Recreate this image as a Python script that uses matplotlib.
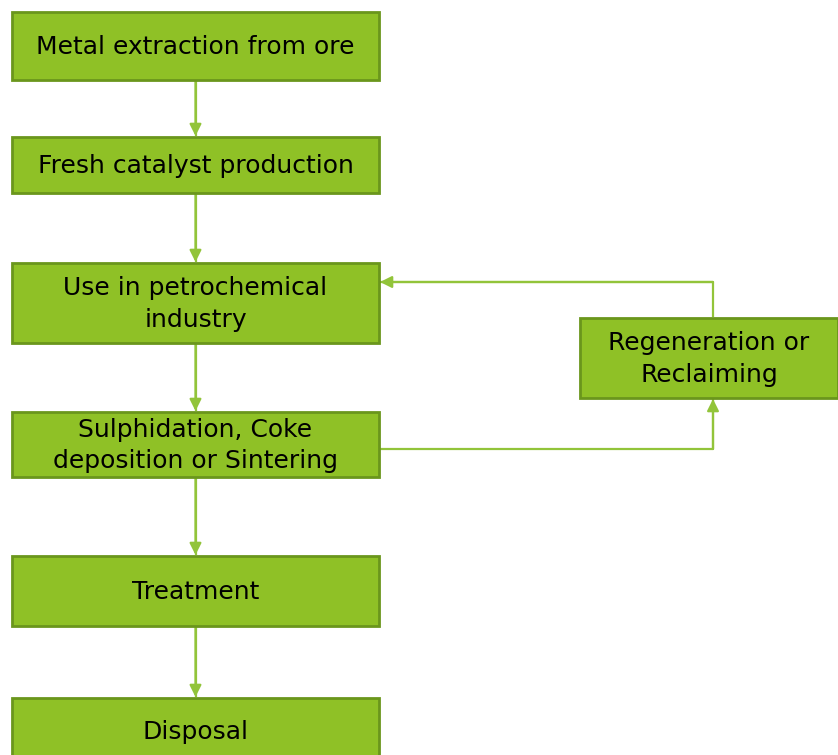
import matplotlib.pyplot as plt
from matplotlib.patches import Rectangle

# flowchart labels
steps = ['Metal extraction from ore', 'Fresh catalyst production',
         'Use in petrochemical\nindustry', 'Sulphidation, Coke\ndeposition or Sintering',
         'Treatment', 'Disposal']
side_step = 'Regeneration or\nReclaiming'

# layout in pixels (y down)
main_x0, main_x1 = 12, 379
main_rows = [(12, 80), (137, 193), (263, 343), (412, 477), (556, 626), (698, 765)]
side_box = (580, 838, 318, 398)

fill = '#8fc126'
edge = '#6a961c'
line = '#92c43a'

fig = plt.figure(figsize=(8.38, 7.55), dpi=100)
ax = fig.add_axes([0, 0, 1, 1])
ax.set_xlim(0, 838)
ax.set_ylim(755, 0)
ax.axis('off')


def box(x0, x1, y0, y1, text):
    ax.add_patch(Rectangle((x0, y0), x1 - x0, y1 - y0, facecolor=fill,
                           edgecolor=edge, linewidth=2, zorder=2))
    ax.text((x0 + x1) / 2, (y0 + y1) / 2 + 1, text, ha='center', va='center',
            fontsize=18, color='black', linespacing=1.4, zorder=3)


def arrow(pts):
    xs = [p[0] for p in pts]
    ys = [p[1] for p in pts]
    ax.plot(xs, ys, color=line, lw=1.6, zorder=1, solid_capstyle='butt')
    ax.annotate('', xy=pts[-1], xytext=pts[-2],
                arrowprops=dict(arrowstyle='-|>,head_length=0.7,head_width=0.35',
                                color=line, lw=1.6, shrinkA=0, shrinkB=0), zorder=1)


for (y0, y1), label in zip(main_rows, steps):
    box(main_x0, main_x1, y0, y1, label)
box(*side_box, side_step)

cx = (main_x0 + main_x1) / 2
for (a0, a1), (b0, b1) in zip(main_rows[:-1], main_rows[1:]):
    arrow([(cx, a1 + 1), (cx, b0 - 1)])

sx = 713
mid4 = 449
arrow([(main_x1 + 1, mid4), (sx, mid4), (sx, side_box[3] + 1)])
arrow([(sx, side_box[2] - 1), (sx, 282), (main_x1 + 1, 282)])

fig.savefig('out.png', dpi=100)
